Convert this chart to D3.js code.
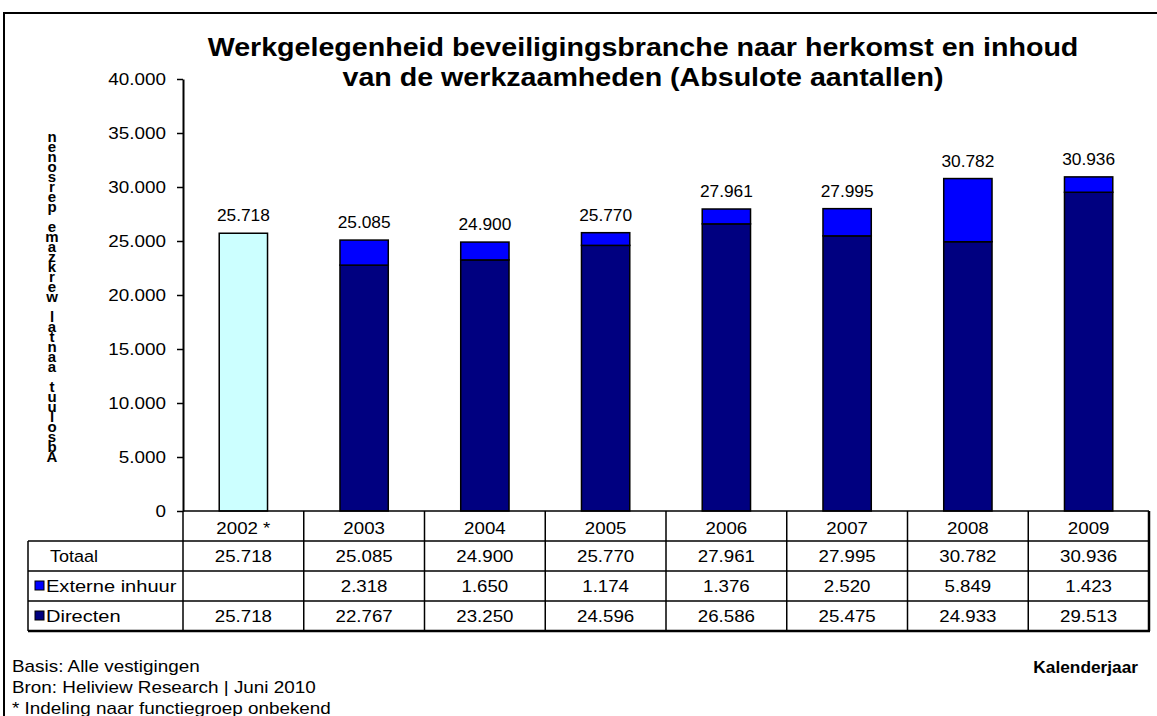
<!DOCTYPE html>
<html>
<head>
<meta charset="utf-8">
<script src="https://cdn.jsdelivr.net/npm/d3@7"></script>
<style>
  html, body { margin: 0; padding: 0; background: #fff; }
  svg { display: block; font-family: Arial, "Liberation Sans", sans-serif; }
</style>
</head>
<body>
<svg id="chart" width="1157" height="716"></svg>
<script>
// ================= DATA =================
const years = ["2002 *", "2003", "2004", "2005", "2006", "2007", "2008", "2009"];
const totaal = [25718, 25085, 24900, 25770, 27961, 27995, 30782, 30936];
const externe = [null, 2318, 1650, 1174, 1376, 2520, 5849, 1423];
const directen = [25718, 22767, 23250, 24596, 26586, 25475, 24933, 29513];
const yTicks = [0, 5000, 10000, 15000, 20000, 25000, 30000, 35000, 40000];

const titleLines = [
  "Werkgelegenheid beveiligingsbranche naar herkomst en inhoud",
  "van de werkzaamheden (Absulote aantallen)"
];
const yLabel = "Absoluut aantal werkzame personen";
const footerLines = [
  "Basis: Alle vestigingen",
  "Bron: Heliview Research | Juni 2010",
  "* Indeling naar functiegroep onbekend"
];

// ================= SETTINGS =================
const plot = { left: 183, right: 1149, top: 79, bottom: 511 };
const rowH = 30;
const tableLeft = 28;
const colors = { first: "#CCFFFF", externe: "#0000FF", directen: "#000080" };
const stretch = 1.1; // original text is drawn a bit wider than Arial

const nl = d3.formatLocale({ decimal: ",", thousands: ".", grouping: [3], currency: ["€", ""] });
const fmt = nl.format(",d");

const svg = d3.select("#chart");

// text with a horizontal stretch around its anchor point
function wideText(parent, x, y, txt, opts = {}) {
  const g = parent.append("g")
    .attr("transform", `translate(${x},${y}) scale(${opts.sx || stretch},1)`);
  return g.append("text")
    .attr("x", 0).attr("y", 0)
    .attr("text-anchor", opts.anchor || "start")
    .attr("font-size", opts.size || 17)
    .attr("font-weight", opts.weight || "normal")
    .attr("fill", "#000")
    .text(txt);
}

// Outer frame
svg.append("path")
  .attr("d", "M4,716 L4,13 L1157,13")
  .attr("fill", "none").attr("stroke", "#000").attr("stroke-width", 2);

// Scales
const x = d3.scaleBand().domain(years).range([plot.left, plot.right]);
const y = d3.scaleLinear().domain([0, 40000]).range([plot.bottom, plot.top]);
const barW = x.bandwidth() * 0.4;

// Title
titleLines.forEach((t, i) => {
  wideText(svg, 643, 56 + i * 30, t, { anchor: "middle", size: 25, weight: "bold", sx: 1.145 });
});

// Y axis
const tickStretch = 1.11;
const yAxis = svg.append("g")
  .attr("transform", `translate(${plot.left},0)`)
  .call(d3.axisLeft(y).tickValues(yTicks).tickFormat(fmt).tickSize(6).tickSizeOuter(0).tickPadding(11));
yAxis.select(".domain").attr("stroke", "#000").attr("stroke-width", 2);
yAxis.selectAll(".tick line").attr("stroke", "#000").attr("stroke-width", 1.5);
yAxis.selectAll(".tick text")
  .attr("font-size", 17).attr("fill", "#000")
  .attr("font-family", "Arial, 'Liberation Sans', sans-serif")
  .attr("x", -17 / tickStretch)
  .attr("transform", `scale(${tickStretch},1)`);

// Y label: upright letters stacked top to bottom, text reversed (as in the original)
svg.append("text")
  .attr("x", 52)
  .attr("y", 128)
  .attr("font-size", 15)
  .attr("font-weight", "bold")
  .style("writing-mode", "vertical-rl")
  .style("text-orientation", "upright")
  .style("letter-spacing", "-7px")
  .text(yLabel.split("").reverse().join(""));

// Bars
const bars = svg.append("g");
years.forEach((yr, i) => {
  const bx = x(yr) + (x.bandwidth() - barW) / 2;
  if (externe[i] == null) {
    bars.append("rect")
      .attr("x", bx).attr("width", barW)
      .attr("y", y(directen[i])).attr("height", y(0) - y(directen[i]))
      .attr("fill", colors.first).attr("stroke", "#000").attr("stroke-width", 1.5);
  } else {
    bars.append("rect")
      .attr("x", bx).attr("width", barW)
      .attr("y", y(directen[i])).attr("height", y(0) - y(directen[i]))
      .attr("fill", colors.directen).attr("stroke", "#000").attr("stroke-width", 1.5);
    bars.append("rect")
      .attr("x", bx).attr("width", barW)
      .attr("y", y(directen[i] + externe[i])).attr("height", y(directen[i]) - y(directen[i] + externe[i]))
      .attr("fill", colors.externe).attr("stroke", "#000").attr("stroke-width", 1.5);
  }
  wideText(bars, x(yr) + x.bandwidth() / 2, y(totaal[i]) - 12, fmt(totaal[i]),
    { anchor: "middle", size: 17, sx: 1.02 });
});

// ================= DATA TABLE =================
const table = svg.append("g");
const rows = [
  { label: "Totaal", values: totaal, swatch: null },
  { label: "Externe inhuur", values: externe, swatch: colors.externe },
  { label: "Directen", values: directen, swatch: colors.directen }
];
const headTop = plot.bottom;

// header (years)
years.forEach((yr) => {
  wideText(table, x(yr) + x.bandwidth() / 2, headTop + 23, yr, { anchor: "middle" });
});

rows.forEach((r, ri) => {
  const top = headTop + rowH * (ri + 1);
  if (r.swatch) {
    table.append("rect")
      .attr("x", 35).attr("y", top + 10).attr("width", 9).attr("height", 9)
      .attr("fill", r.swatch).attr("stroke", "#000").attr("stroke-width", 1);
  }
  wideText(table, r.swatch ? 46 : 50, top + 21, r.label, { sx: r.swatch ? 1.18 : 1.06 });
  years.forEach((yr, i) => {
    if (r.values[i] == null) return;
    wideText(table, x(yr) + x.bandwidth() / 2, top + 21, fmt(r.values[i]), { anchor: "middle" });
  });
});

// grid lines
const lineAttr = (sel, w) => sel.attr("stroke", "#000").attr("stroke-width", w || 1.5);
lineAttr(table.append("line").attr("x1", plot.left).attr("x2", plot.right).attr("y1", headTop).attr("y2", headTop));
for (let k = 1; k <= 3; k++) {
  lineAttr(table.append("line").attr("x1", tableLeft).attr("x2", plot.right)
    .attr("y1", headTop + rowH * k).attr("y2", headTop + rowH * k));
}
lineAttr(table.append("line").attr("x1", tableLeft).attr("x2", plot.right + 1)
  .attr("y1", headTop + rowH * 4).attr("y2", headTop + rowH * 4), 2.5);
lineAttr(table.append("line").attr("x1", tableLeft).attr("x2", tableLeft)
  .attr("y1", headTop + rowH).attr("y2", headTop + rowH * 4));
years.forEach((yr) => {
  lineAttr(table.append("line").attr("x1", x(yr)).attr("x2", x(yr))
    .attr("y1", headTop).attr("y2", headTop + rowH * 4));
});
lineAttr(table.append("line").attr("x1", plot.right).attr("x2", plot.right)
  .attr("y1", headTop).attr("y2", headTop + rowH * 4), 2.5);

// ================= FOOTER =================
footerLines.forEach((t, i) => {
  wideText(svg, 12, 672 + i * 21, t, { size: 16, sx: 1.18 });
});
wideText(svg, 1138, 673, "Kalenderjaar", { anchor: "end", size: 16, weight: "bold", sx: 1.08 });
</script>
</body>
</html>
